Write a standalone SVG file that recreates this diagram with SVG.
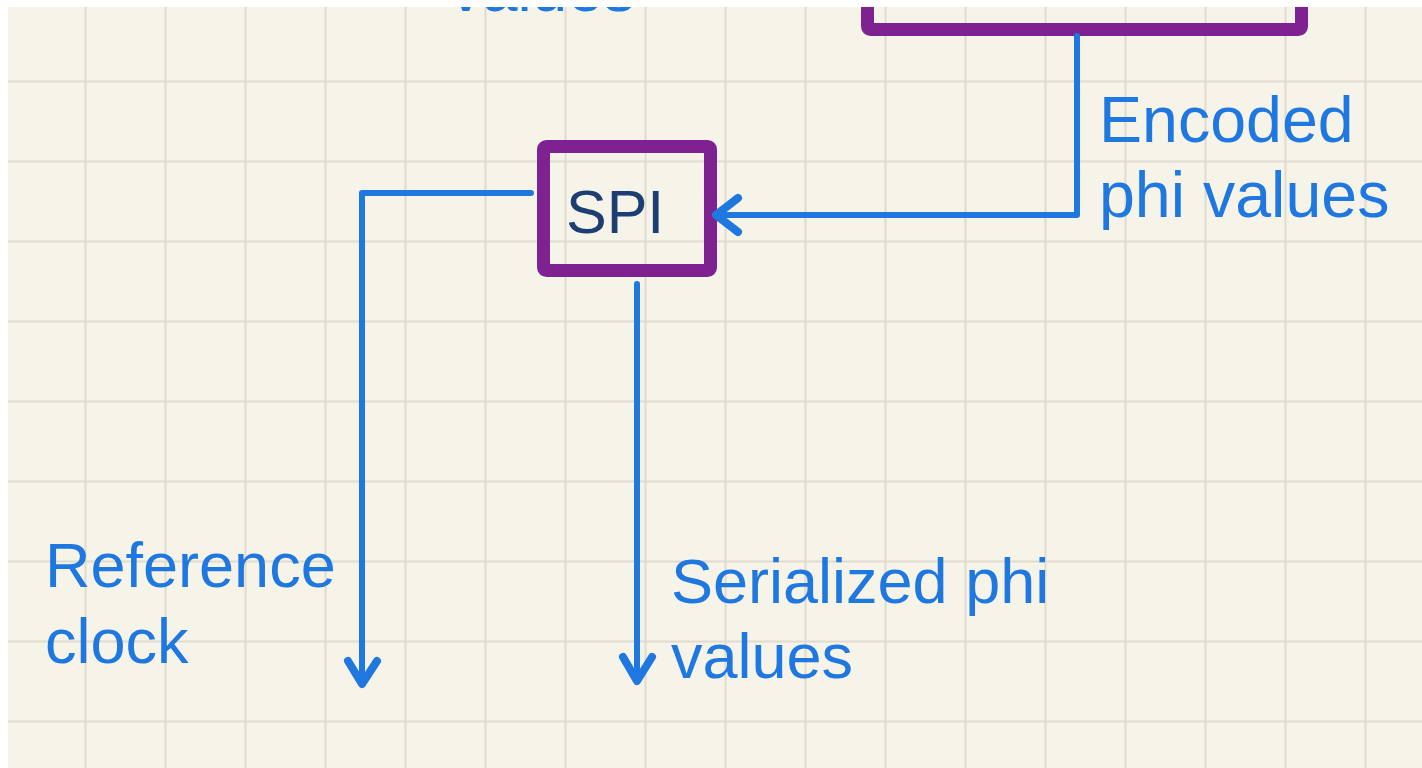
<svg xmlns="http://www.w3.org/2000/svg" width="1422" height="768" viewBox="0 0 1422 768">
  <style>
    .grid line { stroke: #dfdbce; stroke-width: 2; }
    .block { fill: none; stroke: #7d2290; stroke-width: 13; stroke-linejoin: round; }
    .wire { fill: none; stroke: #1f78df; stroke-width: 6; stroke-linecap: round; stroke-linejoin: round; }
    .head { fill: none; stroke: #1f78df; stroke-width: 8; stroke-linecap: round; stroke-linejoin: round; }
    .label { font-family: "Liberation Sans", Arial, Helvetica, sans-serif; fill: #1f78df; font-size: 63px; }
    .name { font-family: "Liberation Sans", Arial, Helvetica, sans-serif; fill: #1c3e73; font-size: 61px; }
  </style>

  <!-- paper -->
  <rect x="0" y="0" width="1422" height="768" fill="#f6f3e8"/>

  <!-- squared grid -->
  <g class="grid">
    <line x1="85.5" y1="0" x2="85.5" y2="768"/>
    <line x1="165.5" y1="0" x2="165.5" y2="768"/>
    <line x1="245.5" y1="0" x2="245.5" y2="768"/>
    <line x1="325.5" y1="0" x2="325.5" y2="768"/>
    <line x1="405.5" y1="0" x2="405.5" y2="768"/>
    <line x1="485.5" y1="0" x2="485.5" y2="768"/>
    <line x1="565.5" y1="0" x2="565.5" y2="768"/>
    <line x1="645.5" y1="0" x2="645.5" y2="768"/>
    <line x1="725.5" y1="0" x2="725.5" y2="768"/>
    <line x1="805.5" y1="0" x2="805.5" y2="768"/>
    <line x1="885.5" y1="0" x2="885.5" y2="768"/>
    <line x1="965.5" y1="0" x2="965.5" y2="768"/>
    <line x1="1045.5" y1="0" x2="1045.5" y2="768"/>
    <line x1="1125.5" y1="0" x2="1125.5" y2="768"/>
    <line x1="1205.5" y1="0" x2="1205.5" y2="768"/>
    <line x1="1285.5" y1="0" x2="1285.5" y2="768"/>
    <line x1="1365.5" y1="0" x2="1365.5" y2="768"/>
    <line x1="0" y1="81.5" x2="1422" y2="81.5"/>
    <line x1="0" y1="161.5" x2="1422" y2="161.5"/>
    <line x1="0" y1="241.5" x2="1422" y2="241.5"/>
    <line x1="0" y1="321.5" x2="1422" y2="321.5"/>
    <line x1="0" y1="401.5" x2="1422" y2="401.5"/>
    <line x1="0" y1="481.5" x2="1422" y2="481.5"/>
    <line x1="0" y1="561.5" x2="1422" y2="561.5"/>
    <line x1="0" y1="641.5" x2="1422" y2="641.5"/>
    <line x1="0" y1="721.5" x2="1422" y2="721.5"/>
  </g>

  <!-- upper block, only its lower part is on the sheet -->
  <g id="encoder">
    <rect class="block" x="867.5" y="-120" width="434" height="149.5" rx="3"/>
  </g>

  <!-- SPI block -->
  <g id="spi">
    <rect class="block" x="543.5" y="146.5" width="167" height="124" rx="3"/>
    <text class="name" x="566" y="233">SPI</text>
  </g>

  <!-- connectors -->
  <g id="connectors">
    <!-- encoded phi values into SPI -->
    <polyline class="wire" points="1077,36 1077,215 718,215"/>
    <polyline class="head" points="738,198 716,215 738,232"/>
    <!-- reference clock out of SPI -->
    <polyline class="wire" points="531,193 362,193 362,683"/>
    <polyline class="head" points="348,661 362,684 377,661"/>
    <!-- serialized phi values out of SPI -->
    <polyline class="wire" points="637,284 637,680"/>
    <polyline class="head" points="623,657 637,681 652,657"/>
  </g>

  <!-- labels -->
  <g id="labels">
    <text class="label" x="450" y="11" style="font-size:64px">values</text>
    <text class="label" x="1099" y="142" style="font-size:64.5px">Encoded</text>
    <text class="label" x="1099" y="217" style="font-size:64.5px">phi values</text>
    <text class="label" x="45" y="587">Reference</text>
    <text class="label" x="45" y="663">clock</text>
    <text class="label" x="671" y="603">Serialized phi</text>
    <text class="label" x="671" y="678">values</text>
  </g>

  <!-- white sheet margins -->
  <rect x="0" y="0" width="1422" height="7" fill="#ffffff"/>
  <rect x="0" y="0" width="8" height="768" fill="#ffffff"/>
</svg>
